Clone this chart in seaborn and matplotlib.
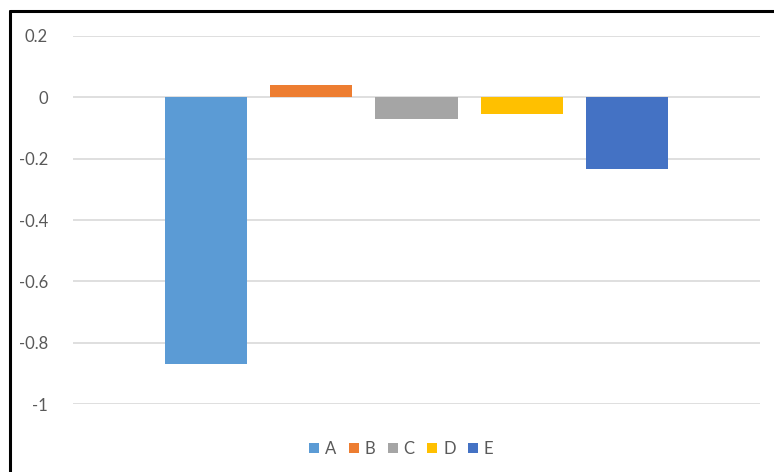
import pandas as pd
import seaborn as sns
import matplotlib.pyplot as plt
from matplotlib.lines import Line2D

# Dados
series = ['A', 'B', 'C', 'D', 'E']
valores = [-0.87, 0.04, -0.072, -0.053, -0.235]
cores = ['#5B9BD5', '#ED7D31', '#A5A5A5', '#FFC000', '#4472C4']
yticks = [-1, -0.8, -0.6, -0.4, -0.2, 0, 0.2]
ytick_labels = ['-1', '-0.8', '-0.6', '-0.4', '-0.2', '0', '0.2']

df = pd.DataFrame({'serie': series, 'valor': valores})

sns.set_style('white')
plt.rcParams['font.family'] = ['Lato', 'DejaVu Sans']

fig = plt.figure(figsize=(7.74, 4.72), dpi=100)
ax = fig.add_axes([73 / 774, 1 - 404 / 472, 687 / 774, 368 / 472])

sns.barplot(data=df, x='serie', y='valor', hue='serie', palette=cores,
            width=0.78, linewidth=0, saturation=1, ax=ax, legend=True)

ax.set_xlim(-1.26, 5.26)
ax.set_ylim(-1, 0.2)
ax.set_yticks(yticks)
ax.set_yticklabels(ytick_labels)
ax.set_xticks([])
ax.set_xlabel('')
ax.set_ylabel('')
ax.tick_params(axis='y', length=0, pad=18, labelsize=12, labelcolor='#595959')
ax.yaxis.grid(True, color='#D9D9D9', linewidth=1.2)
ax.set_axisbelow(True)
for s in ax.spines.values():
    s.set_visible(False)

sns.move_legend(ax, 'center', bbox_to_anchor=(0.478, -0.122), ncol=5,
                frameon=False, handlelength=0.6, handleheight=0.6,
                handletextpad=0.35, columnspacing=0.75, fontsize=12,
                title=None, labelcolor='#595959')

# Borda preta (recorte do gráfico original)
fig.add_artist(Line2D([10 / 774, 10 / 774], [0, 1 - 11 / 472], color='black', lw=2.2))
fig.add_artist(Line2D([10 / 774, 1], [1 - 11 / 472, 1 - 11 / 472], color='black', lw=2.2))

fig.savefig('out.png', dpi=100)
